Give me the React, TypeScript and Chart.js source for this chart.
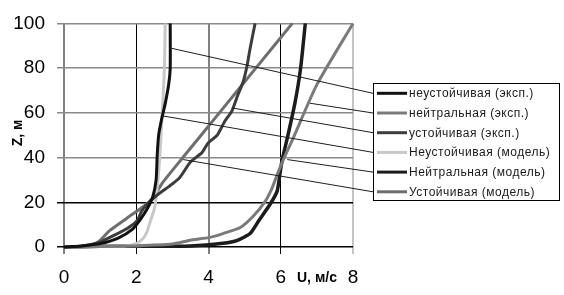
import React, { useEffect, useRef } from "react";
import { Chart, registerables } from "chart.js";

Chart.register(...registerables);

// ---- data ----
const seriesNames = [
  "неустойчивая (эксп.)",
  "нейтральная (эксп.)",
  "устойчивая (эксп.)",
  "Неустойчивая (модель)",
  "Нейтральная (модель)",
  "Устойчивая (модель)",
];

const unstableExpU = [0, 0.5, 1.0, 1.5, 1.9, 2.1, 2.3, 2.45, 2.55, 2.58, 2.62, 2.7, 2.8, 2.9, 2.94, 2.94];
const unstableExpZ = [0, 0.5, 1.5, 4, 8, 12, 17, 22, 30, 41, 50, 57, 64, 73, 80, 100];

const neutralExpU = [0, 1, 2, 3, 3.49, 4.04, 4.4, 4.88, 5.25, 5.57, 5.75, 5.93, 6.07, 6.32, 7.0, 8.0];
const neutralExpZ = [0, 0.2, 0.5, 1.3, 3, 4.3, 6, 8.7, 14, 20.4, 26, 33.5, 39, 47.8, 72.6, 100];

const stableExpU = [0, 0.5, 1.0, 1.27, 1.75, 2.02, 2.15, 2.35, 2.6, 2.9, 3.2, 3.5, 3.82, 3.99, 4.24, 4.32, 4.46, 4.65, 4.82, 4.96, 5.07, 5.15, 5.29];
const stableExpZ = [0, 0.5, 2.2, 4.3, 8.3, 11.7, 16, 20, 23.5, 27, 31, 38, 42.2, 46.5, 50, 52.2, 56.5, 60.9, 68.3, 73.9, 81.3, 88.7, 100];

const unstableModU = [0, 1.0, 1.7, 2.0, 2.2, 2.3, 2.4, 2.5, 2.55, 2.6, 2.65, 2.72, 2.78, 2.8];
const unstableModZ = [0, 0.3, 0.5, 1.5, 4, 7, 12, 17, 22, 30, 40, 60, 80, 100];

const neutralModU = [0, 1, 2, 3.5, 4.4, 4.8, 5.15, 5.4, 5.7, 5.9, 5.98, 6.04, 6.2, 6.4, 6.55, 6.68];
const neutralModZ = [0, 0.3, 0.3, 0.5, 1.7, 3, 6, 12, 19, 25, 33, 39, 50, 65, 80, 100];

const stableModU = [0, 0.5, 0.8, 1.0, 1.27, 1.75, 2.38, 2.74, 3.29, 4.3, 5.31, 6.32];
const stableModZ = [0, 0.3, 1, 3, 7.4, 13, 20.4, 29, 40, 60, 80, 100];

const xTicks = [0, 2, 4, 6, 8];
const yTicks = [0, 20, 40, 60, 80, 100];

// leader lines: start point (data units) for each legend entry
const leaderU = [2.94, 6.81, 4.65, 2.71, 6.18, 3.3];
const leaderZ = [89, 64.3, 62.2, 58.7, 39.1, 39.1];

const seriesColors = ["#111111", "#7a7a7a", "#3c3c3c", "#c8c8c8", "#1c1c1c", "#6e6e6e"];
const seriesWidths = [3, 3, 3, 3, 3.5, 3];

const seriesU = [unstableExpU, neutralExpU, stableExpU, unstableModU, neutralModU, stableModU];
const seriesZ = [unstableExpZ, neutralExpZ, stableExpZ, unstableModZ, neutralModZ, stableModZ];

const xGridColor = (v: number) => (v === 2 || v === 6 ? "#000000" : v === 8 ? "#c4c4c4" : "#808080");
const xGridWidth = (v: number) => (v === 2 || v === 6 ? 1 : 2);
const yGridColor = (v: number) => (v === 0 || v === 20 ? "#000000" : "#8a8a8a");

const FONT = "'Liberation Sans', Arial, sans-serif";

const overlayPlugin = {
  id: "overlay",
  afterDatasetsDraw(chart: any) {
    const ctx = chart.ctx;
    const xs = chart.scales.x;
    const ys = chart.scales.y;
    const box = { l: 373, t: 83, r: 559, b: 200 };
    const rowY = (i: number) => 93.3 + i * 19.7;

    ctx.save();
    // leader lines
    ctx.strokeStyle = "#1e1e1e";
    ctx.lineWidth = 1;
    for (let i = 0; i < seriesNames.length; i++) {
      ctx.beginPath();
      ctx.moveTo(xs.getPixelForValue(leaderU[i]), ys.getPixelForValue(leaderZ[i]));
      ctx.lineTo(box.l, rowY(i));
      ctx.stroke();
    }
    // legend box
    ctx.fillStyle = "#ffffff";
    ctx.fillRect(box.l, box.t, box.r - box.l, box.b - box.t);
    ctx.strokeStyle = "#000000";
    ctx.lineWidth = 1;
    ctx.strokeRect(box.l + 0.5, box.t + 0.5, box.r - box.l, box.b - box.t);
    ctx.font = `12px ${FONT}`;
    try { (ctx as any).letterSpacing = "0.5px"; } catch (e) {}
    ctx.textBaseline = "middle";
    ctx.textAlign = "left";
    for (let i = 0; i < seriesNames.length; i++) {
      const y = rowY(i);
      ctx.strokeStyle = seriesColors[i];
      ctx.lineWidth = 3;
      ctx.beginPath();
      ctx.moveTo(377, y);
      ctx.lineTo(407, y);
      ctx.stroke();
      ctx.fillStyle = "#1a1a1a";
      ctx.fillText(seriesNames[i], 409, y + 0.5);
    }
    try { (ctx as any).letterSpacing = "0px"; } catch (e) {}
    // axis titles
    ctx.fillStyle = "#000000";
    ctx.font = `bold 14px ${FONT}`;
    ctx.textBaseline = "alphabetic";
    ctx.fillText("U, м/с", 297, 282);
    ctx.translate(22, 133);
    ctx.rotate(-Math.PI / 2);
    ctx.textAlign = "center";
    ctx.fillText("Z, м", 0, 0);
    ctx.restore();
  },
};

export default function App() {
  const ref = useRef<HTMLCanvasElement | null>(null);
  useEffect(() => {
    document.body.style.margin = "0";
    const canvas = ref.current;
    if (!canvas) return;
    const datasets = seriesNames.map((name, i) => ({
      label: name,
      data: seriesU[i].map((u, k) => ({ x: u, y: seriesZ[i][k] })),
      showLine: true,
      borderColor: seriesColors[i],
      backgroundColor: seriesColors[i],
      borderWidth: seriesWidths[i],
      pointRadius: 0,
      tension: 0.2,
      clip: false as any,
      fill: false,
    }));
    const chart = new Chart(canvas, {
      type: "scatter",
      data: { datasets },
      plugins: [overlayPlugin],
      options: {
        responsive: false,
        animation: false,
        devicePixelRatio: 1,
        layout: { padding: { left: 0, top: 17, right: 211, bottom: 0 } },
        plugins: { legend: { display: false }, tooltip: { enabled: false } },
        scales: {
          x: {
            type: "linear",
            min: 0,
            max: 8,
            afterBuildTicks: (s: any) => {
              s.ticks = xTicks.map((v) => ({ value: v }));
            },
            afterFit: (s: any) => {
              s.height = 48;
            },
            border: { display: false },
            grid: {
              color: (c: any) => xGridColor(c.tick ? c.tick.value : 0),
              lineWidth: (c: any) => xGridWidth(c.tick ? c.tick.value : 0),
              tickLength: 7,
            },
            ticks: {
              color: "#000",
              font: { family: FONT, size: 19 },
              padding: 12,
              maxRotation: 0,
            },
          },
          y: {
            type: "linear",
            min: 0,
            max: 100,
            afterBuildTicks: (s: any) => {
              s.ticks = yTicks.map((v) => ({ value: v }));
            },
            afterFit: (s: any) => {
              s.width = 64;
            },
            border: { display: false },
            grid: {
              color: (c: any) => yGridColor(c.tick ? c.tick.value : 0),
              lineWidth: 1.5,
              tickLength: 7,
            },
            ticks: {
              color: "#000",
              font: { family: FONT, size: 19 },
              padding: 12,
            },
          },
        },
      },
    });
    return () => chart.destroy();
  }, []);
  return <canvas ref={ref} width={564} height={295} style={{ display: "block" }} />;
}
